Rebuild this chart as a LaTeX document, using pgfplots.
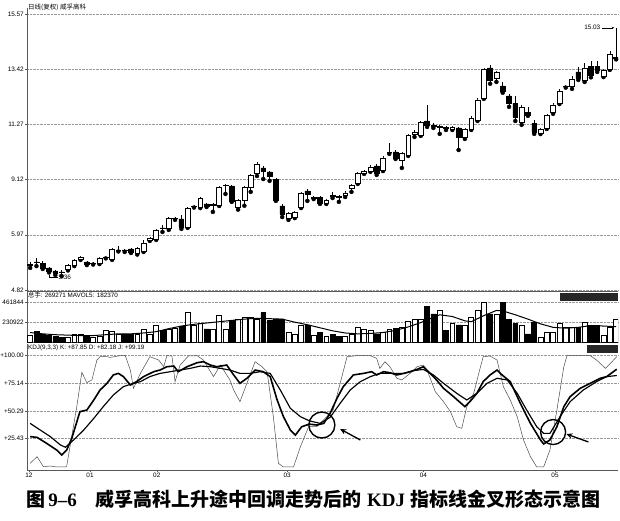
\documentclass[border=0pt]{standalone}
\usepackage{fontspec}
\setmainfont{Liberation Sans}
\newfontfamily\cjk{Noto Sans CJK SC}
\newfontfamily\serifbf{Liberation Serif}
\usepackage{pgfplots}
\pgfplotsset{compat=1.18}
\usepackage{pgfplotstable}
\usetikzlibrary{arrows.meta}

% i open high low close up(1)/down(0) volume(thousands)
\pgfplotstableread{
i O H L C u V
0 5.79 5.91 5.68 5.81 1 81
1 5.91 6.05 5.75 5.89 0 127
2 5.87 5.93 5.64 5.68 0 89
3 5.68 5.72 5.50 5.56 0 81
4 5.56 5.60 5.40 5.48 0 69
5 5.52 5.58 5.36 5.50 0 62
6 5.64 5.83 5.58 5.79 1 62
7 5.79 6.03 5.75 5.99 1 89
8 6.03 6.15 5.99 6.11 1 92
9 5.91 5.95 5.79 5.83 0 69
10 5.85 5.91 5.81 5.87 1 62
11 5.87 6.11 5.83 6.07 1 73
12 6.09 6.15 6.05 6.11 1 139
13 6.03 6.46 5.99 6.42 1 127
14 6.36 6.55 6.32 6.38 1 89
15 6.38 6.42 6.30 6.36 0 100
16 6.42 6.46 6.26 6.30 0 89
17 6.26 6.50 6.20 6.46 1 100
18 6.34 6.75 6.30 6.65 1 158
19 6.77 6.89 6.73 6.85 1 100
20 6.81 7.20 6.77 7.16 1 204
21 7.24 7.35 7.08 7.22 0 139
22 7.24 7.66 7.16 7.62 1 158
23 7.60 7.66 7.55 7.62 1 166
24 7.59 7.74 7.20 7.27 0 189
25 7.27 8.05 7.24 8.01 1 350
26 8.07 8.13 8.03 8.09 1 196
27 8.05 8.44 8.01 8.40 1 216
28 8.17 8.21 8.05 8.09 0 158
29 8.13 8.19 7.86 8.15 1 150
30 8.13 8.87 8.09 8.83 1 312
31 8.89 8.95 8.56 8.91 1 158
32 8.87 8.91 8.25 8.29 0 254
33 8.05 8.37 7.95 8.33 1 273
34 8.33 8.87 8.10 8.83 1 293
35 8.83 9.34 8.64 9.30 1 293
36 9.38 9.80 9.26 9.73 1 273
37 9.57 9.65 9.14 9.45 0 343
38 9.42 9.45 9.07 9.26 0 254
39 9.14 9.18 8.29 8.33 0 273
40 8.09 8.17 7.66 7.78 0 273
41 7.62 7.86 7.55 7.82 1 119
42 7.66 7.90 7.62 7.86 1 89
43 8.05 8.64 8.01 8.60 1 204
44 8.68 8.75 8.29 8.56 0 204
45 8.40 8.48 8.36 8.42 1 81
46 8.44 8.48 8.17 8.21 0 119
47 8.21 8.37 8.17 8.33 1 73
48 8.50 8.64 8.40 8.46 0 89
49 8.46 8.50 8.25 8.44 0 69
50 8.52 8.68 8.44 8.60 1 73
51 8.79 8.95 8.64 8.91 1 89
52 8.99 9.42 8.95 9.38 1 177
53 9.38 9.49 9.34 9.45 1 158
54 9.45 9.68 9.42 9.61 1 139
55 9.65 9.73 9.30 9.38 0 100
56 9.49 10.04 9.45 9.96 1 119
57 10.18 10.55 10.12 10.20 1 158
58 10.20 10.27 9.92 9.96 0 166
59 9.88 10.20 9.57 10.16 1 177
60 10.08 10.90 10.04 10.86 1 242
61 10.90 11.05 10.78 10.97 1 273
62 10.86 11.40 10.82 11.36 1 273
63 11.40 12.03 11.17 11.25 0 420
64 11.23 11.32 11.13 11.21 0 331
65 11.17 11.25 10.90 11.19 1 370
66 11.15 11.21 11.05 11.13 0 139
67 11.09 11.21 11.05 11.17 1 216
68 11.13 11.17 10.27 10.78 0 204
69 10.78 11.13 10.70 11.09 1 204
70 11.09 11.60 11.05 11.52 1 293
71 11.44 12.30 11.40 12.22 1 370
72 12.30 13.47 12.26 13.43 1 466
73 13.47 13.58 12.85 13.00 0 331
74 13.08 13.35 12.92 13.31 1 331
75 12.77 12.93 12.50 12.57 0 462
76 12.38 12.46 11.95 12.10 0 266
77 12.10 12.38 11.40 11.56 0 216
78 11.36 12.03 11.25 11.95 1 196
79 11.75 11.95 11.60 11.64 0 100
80 11.32 11.44 10.90 10.97 0 235
81 10.93 11.13 10.89 11.09 1 62
82 11.13 11.68 11.09 11.64 1 119
83 11.75 12.10 11.68 12.03 1 119
84 12.10 12.65 12.06 12.57 1 216
85 12.75 12.81 12.70 12.77 1 177
86 12.77 13.15 12.65 13.04 1 177
87 13.31 13.50 13.00 13.08 0 177
88 13.00 13.66 12.92 13.47 1 235
89 13.54 13.74 13.10 13.19 0 196
90 13.54 13.74 13.31 13.39 0 196
91 13.15 13.43 13.11 13.39 1 81
92 13.43 14.12 13.39 14.01 1 177
93 13.85 15.03 13.80 13.89 1 269.271
}\candles

\tikzset{tl/.style={font=\fontsize{6.4}{7}\selectfont}}
\pgfplotsset{
  base/.style={scale only axis, width=591pt, xmin=-0.5, xmax=93.3, anchor=south west},
  frame/.style={base, axis x line*=bottom, axis y line*=left,
    axis line style={black!65, line width=0.6pt}, xtick=\empty,
    tick style={black!65, line width=0.4pt}, ymajorgrids,
    grid style={densely dotted, black!40, line width=0.4pt},
    yticklabel style={tl, inner sep=1pt}, xticklabel style={tl, inner sep=1pt},
    major tick length=2pt, tick align=outside},
  mainp/.style={at={(27pt,229pt)}, height=283pt, ymin=4.78, ymax=15.80},
}

\begin{document}
\begin{tikzpicture}
\path[use as bounding box] (0pt,0pt) rectangle (620pt,520pt);

% ---------- price panel: wicks ----------
\begin{axis}[frame, mainp,
  ytick={4.82,6.97,9.12,11.27,13.42,15.57},
  yticklabels={4.82,5.97,9.12,11.27,13.42,15.57}]
\addplot[only marks, mark=none, error bars/.cd, y dir=plus, y explicit,
  error mark=none, error bar style={black, line width=0.6pt}]
  table[x=i, y=L, y error expr=\thisrow{H}-\thisrow{L}] {\candles};
\node[anchor=east, inner sep=0.5pt, tl] at (axis cs:90.6,15.03) {15.03};
\draw[line width=0.4pt, -{Stealth[length=2.5pt,width=2.2pt]}] (axis cs:90.8,15.03) -- (axis cs:92.7,15.03);
\node[anchor=west, inner sep=0.5pt, tl] at (axis cs:4.4,5.33) {5.36};
\draw[line width=0.4pt] (axis cs:3.1,5.42) |- (axis cs:4.4,5.33);
\end{axis}

% ---------- price panel: bodies ----------
\begin{axis}[base, mainp, hide axis, ybar stacked, bar width=4.8pt]
\addplot[draw=none, fill=none] table[x=i, y expr={min(\thisrow{O},\thisrow{C})}] {\candles};
\addplot[draw=black, fill=white, line width=0.55pt] table[x=i, y expr={(\thisrow{C}-\thisrow{O})*\thisrow{u}}] {\candles};
\addplot[draw=black, fill=black, line width=0.55pt] table[x=i, y expr={(\thisrow{O}-\thisrow{C})*(1-\thisrow{u})}] {\candles};
\end{axis}

% ---------- volume panel ----------
\begin{axis}[frame, at={(27pt,177.5pt)}, height=50.5pt, ymin=0, ymax=583,
  ytick={230.922,461.844}, yticklabels={230922,461844}, ybar, bar width=4.9pt]
\addplot[bar shift=0pt, draw=black, fill=white, line width=0.6pt] table[x=i, y expr={\thisrow{V}*\thisrow{u}}] {\candles};
\addplot[bar shift=0pt, draw=black, fill=black, line width=0.6pt] table[x=i, y expr={\thisrow{V}*(1-\thisrow{u})}] {\candles};
\addplot[sharp plot, black, line width=1pt, mark=none] coordinates {
(0,115)(2,100)(4,90)(6,85)(8,80)(10,80)(12,90)(14,100)(16,100)(18,110)(20,125)
(22,160)(24,190)(26,210)(28,225)(30,240)(32,255)(34,270)(36,280)(38,275)(40,270)
(42,235)(44,205)(46,170)(48,135)(50,110)(52,100)(54,105)(56,115)(58,140)(60,180)
(62,230)(63,260)(65,320)(67,300)(69,250)(70,240)(72,310)(74,370)(75,365)(77,320)
(79,270)(81,215)(83,175)(85,165)(87,175)(89,195)(91,190)(93,182.37)};
\end{axis}

% ---------- KDJ panel ----------
\begin{axis}[frame, at={(27pt,50pt)}, height=126pt, ymin=-2.7, ymax=110.5,
  ytick={25.43,50.29,75.14,100}, yticklabels={+25.43,+50.29,+75.14,+100.00},
  xtick={-0.2,9.5,20.1,40.8,62.4,83.3}, xticklabels={12,01,02,03,04,05}]
% J
\addplot[black!70, line width=0.5pt, mark=none] coordinates {
(0,3.3)(1.1,9.3)(2.1,0.3)(3.2,0.9)(4.2,0)(5.6,0)(5.8,0.8)(7.4,54.2)(8.2,85.0)(9.0,75.8)
(9.8,78.2)(10.6,96.1)(11.1,99.1)(12.2,99.1)(12.7,98.5)(14.3,100)(15.1,100)(15.9,87.1)
(16.4,70.7)(17.5,84.1)(19.0,99.1)(20.4,96.1)(21.2,90.1)(21.7,100)(22.5,99.7)(23.0,76.7)
(23.8,91.6)(25.1,99.7)(26.5,100)(27.5,96.1)(29.1,81.2)(30.2,91.6)(31.7,78.2)(32.3,69.2)
(33.3,58.7)(34.4,75.2)(35.7,94.6)(36.8,90.1)(37.6,85.6)(38.6,45.2)(39.4,3.3)(40.2,0)
(41.3,0)(41.8,0)(42.9,18.3)(44.2,36.2)(45.5,36.2)(47.1,45.2)(48.1,51.2)(49.2,75.2)
(50.3,99.1)(51.8,100)(54.0,100)(55.0,97.6)(55.5,88.6)(56.3,94.6)(57.1,90.1)(58.2,79.7)
(59.0,78.2)(60.3,84.1)(61.4,90.1)(62.4,91.6)(63.2,84.1)(64.3,67.7)(65.6,58.7)(66.7,49.7)
(67.7,36.2)(68.5,34.7)(69.3,54.2)(70.4,66.2)(71.2,84.1)(71.9,99.1)(73.0,99.7)(74.1,96.1)
(75.1,72.2)(76.2,60.2)(77.3,45.2)(78.3,24.3)(79.4,9.3)(80.4,0)(81.5,0)(82.5,15.3)
(83.6,51.2)(84.7,90.1)(85.2,100)(86.8,100)(88.9,100)(89.9,96.1)(91.3,88.6)(92.1,93.1)(93.1,99.19)};
% D
\addplot[black, line width=1.15pt, mark=none] coordinates {
(0,39.2)(1.6,33.2)(3.2,27.3)(4.8,19.8)(5.6,17.7)(6.9,24.3)(8.5,33.2)(10.1,43.7)(11.6,54.2)
(13.2,64.7)(14.8,72.2)(16.1,74.6)(17.5,76.7)(19.0,81.2)(20.6,84.1)(22.2,85.6)(23.8,87.1)
(25.4,88.6)(27.0,90.7)(28.6,90.1)(30.2,88.6)(31.7,87.1)(33.3,84.1)(34.9,84.1)(36.5,85.6)
(38.1,84.1)(39.7,69.2)(41.3,52.7)(42.9,45.2)(44.3,41.5)(46.0,39.2)(47.6,44.6)(49.2,57.2)
(50.8,69.2)(52.4,76.7)(54.0,81.2)(55.5,84.1)(57.7,84.1)(59.3,84.1)(60.8,86.5)(62.4,87.7)
(64.0,82.7)(65.6,75.2)(67.7,66.2)(69.3,60.2)(70.9,66.2)(72.5,75.2)(74.1,79.7)(75.7,78.2)
(77.3,66.2)(78.8,51.2)(80.4,36.2)(81.5,30.2)(82.5,30.2)(84.1,45.2)(85.7,58.7)(87.8,69.2)
(89.9,76.7)(91.5,81.2)(93.1,82.18)};
% K
\addplot[black, line width=1.6pt, mark=none] coordinates {
(0,27.3)(1.1,26.6)(2.6,21.3)(4.2,15.3)(5.0,10.8)(5.8,15.3)(6.6,25.7)(7.9,49.7)(9.0,51.2)
(10.1,60.2)(11.1,69.2)(12.2,75.2)(13.2,82.7)(14.0,84.1)(14.8,81.2)(15.9,73.7)(16.9,76.7)
(18.0,81.2)(19.6,85.6)(20.6,87.1)(21.7,90.1)(22.8,90.7)(23.5,85.6)(24.9,90.1)(26.5,93.7)
(27.5,94.6)(28.6,91.6)(29.6,90.1)(31.2,91.6)(32.3,82.7)(33.3,75.2)(34.4,79.7)(35.7,87.1)
(37.0,85.6)(38.1,81.2)(39.2,60.2)(40.2,45.2)(41.3,33.2)(42.1,28.7)(43.1,36.2)(44.3,38.5)
(45.5,37.7)(46.6,39.2)(47.6,48.2)(48.7,61.7)(49.7,72.2)(51.3,82.7)(52.9,84.1)(54.2,85.6)
(55.0,82.7)(56.1,85.6)(57.1,84.7)(58.2,82.7)(59.3,84.1)(60.3,85.6)(61.4,87.7)(62.4,90.1)
(63.5,84.1)(64.5,78.2)(65.6,70.7)(67.2,63.2)(69.0,54.2)(69.8,58.7)(70.9,66.2)(71.9,76.7)
(73.0,82.7)(74.1,87.1)(74.9,82.7)(76.2,76.7)(77.8,57.2)(79.4,39.2)(81.0,24.3)(81.5,20.7)
(82.5,24.3)(83.6,36.2)(84.7,54.2)(85.7,63.2)(87.3,70.7)(88.9,75.2)(90.5,79.7)(91.5,81.2)(93.1,87.85)};
% annotations
\draw[line width=1.4pt] (axis cs:46.3,37.7) circle[radius=13pt];
\draw[line width=1.4pt] (axis cs:83.0,31.4) circle[radius=12.5pt];
\draw[line width=1.3pt, -{Stealth[length=6pt,width=5.5pt]}] (axis cs:52.4,24.3) -- (axis cs:49.2,34.1);
\draw[line width=1.3pt, -{Stealth[length=6pt,width=5.5pt]}] (axis cs:88.6,22.5) -- (axis cs:85.1,29.6);
\end{axis}

% ---------- panel captions ----------
\node[anchor=west, inner sep=0pt, font=\cjk\fontsize{6.5}{7}\selectfont] at (28pt,513pt) {日线(复权)\ 威孚高科};
\node[anchor=west, inner sep=0pt, font=\fontsize{6.3}{7}\selectfont] at (28pt,224.5pt) {{\cjk 总手}: 269271 MAVOL5: 182370};
\node[anchor=west, inner sep=0pt, font=\fontsize{6.3}{7}\selectfont] at (28pt,172pt) {KDJ(9,3,3) K: +87.85 D: +82.18 J: +99.19};
\fill[black!85] (560pt,219pt) rectangle (618pt,227pt);
\fill[black!85] (587pt,167pt) rectangle (618pt,175pt);

% ---------- figure caption ----------
\node[anchor=base west, inner sep=0pt] at (26pt,13.6pt)
  {\fontsize{19}{22}\selectfont\bfseries{\cjk 图}\,{\serifbf 9–6}\hspace{1em}{\cjk 威孚高科上升途中回调走势后的}\ {\serifbf KDJ}\ {\cjk 指标线金叉形态示意图}};
\end{tikzpicture}
\end{document}
